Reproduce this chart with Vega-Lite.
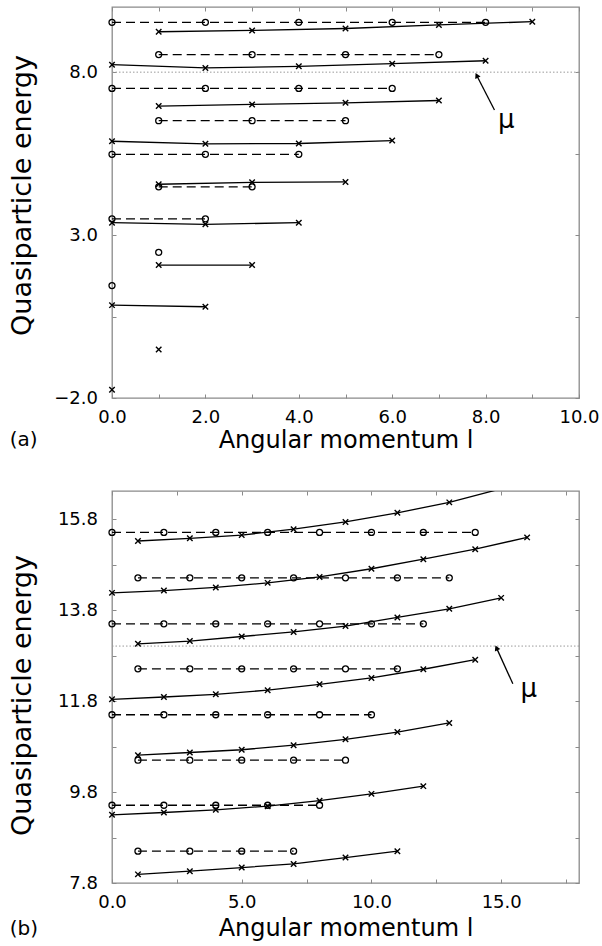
{
  "$schema": "https://vega.github.io/schema/vega-lite/v6.json",
  "padding": {"left": 7, "top": 5, "right": 0, "bottom": 0},
  "bounds": "flush",
  "spacing": 93,
  "config": {
    "font": "DejaVu Sans",
    "view": {"stroke": "#8a8a8a", "strokeWidth": 1.3},
    "axis": {"domain": false, "grid": false, "tickColor": "#8a8a8a", "tickSize": -4, "tickWidth": 1, "labelFont": "DejaVu Sans", "labelFontSize": 18, "labelColor": "black", "titleFont": "DejaVu Sans", "titleFontSize": 24, "titleFontWeight": "normal", "titleColor": "black", "labelFlush": false, "labelOverlap": false},
    "axisX": {"labelPadding": 14},
    "axisY": {"labelPadding": 18.5}
  },
  "datasets": {
    "a": [
      {"l":0,"E":9.53,"s":"o9","k":"o"},{"l":2,"E":9.53,"s":"o9","k":"o"},{"l":4,"E":9.53,"s":"o9","k":"o"},{"l":6,"E":9.53,"s":"o9","k":"o"},{"l":8,"E":9.53,"s":"o9","k":"o"},
      {"l":1,"E":8.54,"s":"o8","k":"o"},{"l":3,"E":8.54,"s":"o8","k":"o"},{"l":5,"E":8.54,"s":"o8","k":"o"},{"l":7,"E":8.54,"s":"o8","k":"o"},
      {"l":0,"E":7.5,"s":"o7","k":"o"},{"l":2,"E":7.5,"s":"o7","k":"o"},{"l":4,"E":7.5,"s":"o7","k":"o"},{"l":6,"E":7.5,"s":"o7","k":"o"},
      {"l":1,"E":6.51,"s":"o6","k":"o"},{"l":3,"E":6.51,"s":"o6","k":"o"},{"l":5,"E":6.51,"s":"o6","k":"o"},
      {"l":0,"E":5.48,"s":"o5","k":"o"},{"l":2,"E":5.48,"s":"o5","k":"o"},{"l":4,"E":5.48,"s":"o5","k":"o"},
      {"l":1,"E":4.48,"s":"o4","k":"o"},{"l":3,"E":4.48,"s":"o4","k":"o"},
      {"l":0,"E":3.5,"s":"o3","k":"o"},{"l":2,"E":3.5,"s":"o3","k":"o"},
      {"l":1,"E":2.47,"s":"o2","k":"o"},
      {"l":0,"E":1.45,"s":"o1","k":"o"},
      {"l":0,"E":-1.75,"s":"x1","k":"x"},
      {"l":1,"E":-0.51,"s":"x2","k":"x"},
      {"l":0,"E":0.85,"s":"x3","k":"x"},{"l":2,"E":0.8,"s":"x3","k":"x"},
      {"l":1,"E":2.08,"s":"x4","k":"x"},{"l":3,"E":2.08,"s":"x4","k":"x"},
      {"l":0,"E":3.38,"s":"x5","k":"x"},{"l":2,"E":3.33,"s":"x5","k":"x"},{"l":4,"E":3.38,"s":"x5","k":"x"},
      {"l":1,"E":4.56,"s":"x6","k":"x"},{"l":3,"E":4.62,"s":"x6","k":"x"},{"l":5,"E":4.63,"s":"x6","k":"x"},
      {"l":0,"E":5.88,"s":"x7","k":"x"},{"l":2,"E":5.8,"s":"x7","k":"x"},{"l":4,"E":5.81,"s":"x7","k":"x"},{"l":6,"E":5.9,"s":"x7","k":"x"},
      {"l":1,"E":6.96,"s":"x8","k":"x"},{"l":3,"E":7.01,"s":"x8","k":"x"},{"l":5,"E":7.06,"s":"x8","k":"x"},{"l":7,"E":7.13,"s":"x8","k":"x"},
      {"l":0,"E":8.23,"s":"x9","k":"x"},{"l":2,"E":8.13,"s":"x9","k":"x"},{"l":4,"E":8.18,"s":"x9","k":"x"},{"l":6,"E":8.26,"s":"x9","k":"x"},{"l":8,"E":8.35,"s":"x9","k":"x"},
      {"l":1,"E":9.24,"s":"x10","k":"x"},{"l":3,"E":9.28,"s":"x10","k":"x"},{"l":5,"E":9.34,"s":"x10","k":"x"},{"l":7,"E":9.45,"s":"x10","k":"x"},{"l":9,"E":9.55,"s":"x10","k":"x"}
    ],
    "b": [
      {"l":1,"E":8.5,"s":"o1","k":"o"},{"l":3,"E":8.5,"s":"o1","k":"o"},{"l":5,"E":8.5,"s":"o1","k":"o"},{"l":7,"E":8.5,"s":"o1","k":"o"},
      {"l":0,"E":9.51,"s":"o2","k":"o"},{"l":2,"E":9.51,"s":"o2","k":"o"},{"l":4,"E":9.51,"s":"o2","k":"o"},{"l":6,"E":9.51,"s":"o2","k":"o"},{"l":8,"E":9.51,"s":"o2","k":"o"},
      {"l":1,"E":10.5,"s":"o3","k":"o"},{"l":3,"E":10.5,"s":"o3","k":"o"},{"l":5,"E":10.5,"s":"o3","k":"o"},{"l":7,"E":10.5,"s":"o3","k":"o"},{"l":9,"E":10.5,"s":"o3","k":"o"},
      {"l":0,"E":11.5,"s":"o4","k":"o"},{"l":2,"E":11.5,"s":"o4","k":"o"},{"l":4,"E":11.5,"s":"o4","k":"o"},{"l":6,"E":11.5,"s":"o4","k":"o"},{"l":8,"E":11.5,"s":"o4","k":"o"},{"l":10,"E":11.5,"s":"o4","k":"o"},
      {"l":1,"E":12.51,"s":"o5","k":"o"},{"l":3,"E":12.51,"s":"o5","k":"o"},{"l":5,"E":12.51,"s":"o5","k":"o"},{"l":7,"E":12.51,"s":"o5","k":"o"},{"l":9,"E":12.51,"s":"o5","k":"o"},{"l":11,"E":12.51,"s":"o5","k":"o"},
      {"l":0,"E":13.5,"s":"o6","k":"o"},{"l":2,"E":13.5,"s":"o6","k":"o"},{"l":4,"E":13.5,"s":"o6","k":"o"},{"l":6,"E":13.5,"s":"o6","k":"o"},{"l":8,"E":13.5,"s":"o6","k":"o"},{"l":10,"E":13.5,"s":"o6","k":"o"},{"l":12,"E":13.5,"s":"o6","k":"o"},
      {"l":1,"E":14.51,"s":"o7","k":"o"},{"l":3,"E":14.51,"s":"o7","k":"o"},{"l":5,"E":14.51,"s":"o7","k":"o"},{"l":7,"E":14.51,"s":"o7","k":"o"},{"l":9,"E":14.51,"s":"o7","k":"o"},{"l":11,"E":14.51,"s":"o7","k":"o"},{"l":13,"E":14.51,"s":"o7","k":"o"},
      {"l":0,"E":15.51,"s":"o8","k":"o"},{"l":2,"E":15.51,"s":"o8","k":"o"},{"l":4,"E":15.51,"s":"o8","k":"o"},{"l":6,"E":15.51,"s":"o8","k":"o"},{"l":8,"E":15.51,"s":"o8","k":"o"},{"l":10,"E":15.51,"s":"o8","k":"o"},{"l":12,"E":15.51,"s":"o8","k":"o"},{"l":14,"E":15.51,"s":"o8","k":"o"},
      {"l":1,"E":7.99,"s":"x1","k":"x"},{"l":3,"E":8.06,"s":"x1","k":"x"},{"l":5,"E":8.14,"s":"x1","k":"x"},{"l":7,"E":8.22,"s":"x1","k":"x"},{"l":9,"E":8.36,"s":"x1","k":"x"},{"l":11,"E":8.5,"s":"x1","k":"x"},
      {"l":0,"E":9.3,"s":"x2","k":"x"},{"l":2,"E":9.35,"s":"x2","k":"x"},{"l":4,"E":9.41,"s":"x2","k":"x"},{"l":6,"E":9.49,"s":"x2","k":"x"},{"l":8,"E":9.61,"s":"x2","k":"x"},{"l":10,"E":9.76,"s":"x2","k":"x"},{"l":12,"E":9.93,"s":"x2","k":"x"},
      {"l":1,"E":10.61,"s":"x3","k":"x"},{"l":3,"E":10.67,"s":"x3","k":"x"},{"l":5,"E":10.73,"s":"x3","k":"x"},{"l":7,"E":10.83,"s":"x3","k":"x"},{"l":9,"E":10.96,"s":"x3","k":"x"},{"l":11,"E":11.12,"s":"x3","k":"x"},{"l":13,"E":11.32,"s":"x3","k":"x"},
      {"l":0,"E":11.84,"s":"x4","k":"x"},{"l":2,"E":11.89,"s":"x4","k":"x"},{"l":4,"E":11.95,"s":"x4","k":"x"},{"l":6,"E":12.04,"s":"x4","k":"x"},{"l":8,"E":12.17,"s":"x4","k":"x"},{"l":10,"E":12.31,"s":"x4","k":"x"},{"l":12,"E":12.5,"s":"x4","k":"x"},{"l":14,"E":12.71,"s":"x4","k":"x"},
      {"l":1,"E":13.06,"s":"x5","k":"x"},{"l":3,"E":13.12,"s":"x5","k":"x"},{"l":5,"E":13.22,"s":"x5","k":"x"},{"l":7,"E":13.32,"s":"x5","k":"x"},{"l":9,"E":13.45,"s":"x5","k":"x"},{"l":11,"E":13.64,"s":"x5","k":"x"},{"l":13,"E":13.83,"s":"x5","k":"x"},{"l":15,"E":14.07,"s":"x5","k":"x"},
      {"l":0,"E":14.18,"s":"x6","k":"x"},{"l":2,"E":14.23,"s":"x6","k":"x"},{"l":4,"E":14.3,"s":"x6","k":"x"},{"l":6,"E":14.4,"s":"x6","k":"x"},{"l":8,"E":14.53,"s":"x6","k":"x"},{"l":10,"E":14.71,"s":"x6","k":"x"},{"l":12,"E":14.92,"s":"x6","k":"x"},{"l":14,"E":15.14,"s":"x6","k":"x"},{"l":16,"E":15.4,"s":"x6","k":"x"},
      {"l":1,"E":15.32,"s":"x7","k":"x"},{"l":3,"E":15.38,"s":"x7","k":"x"},{"l":5,"E":15.45,"s":"x7","k":"x"},{"l":7,"E":15.58,"s":"x7","k":"x"},{"l":9,"E":15.74,"s":"x7","k":"x"},{"l":11,"E":15.94,"s":"x7","k":"x"},{"l":13,"E":16.17,"s":"x7","k":"x"},{"l":15,"E":16.47,"s":"x7","k":"x"}
    ],
    "amu": [{"x1": 0, "x2": 10, "E": 8.0}],
    "bmu": [{"x1": 0, "x2": 18, "E": 13.01}],
    "aarr": [{"l": 8.19, "E": 6.84, "l2": 7.81, "E2": 7.9}],
    "barr": [{"l": 15.45, "E": 12.18, "l2": 14.82, "E2": 12.97}],
    "atxt": [{"l": 8.44, "E": 6.3, "t": "μ"}],
    "btxt": [{"l": 16.06, "E": 11.89, "t": "μ"}],
    "alab": [{"l": -2.19, "E": -3.3, "t": "(a)"}],
    "blab": [{"l": -3.94, "E": 6.79, "t": "(b)"}]
  },
  "vconcat": [
    {
      "width": 467,
      "height": 391,
      "resolve": {"axis": {"x": "independent", "y": "independent"}},
      "layer": [
        {
          "data": {"name": "amu"},
          "mark": {"type": "rule", "color": "#9a9a9a", "strokeDash": [1.5, 2], "strokeWidth": 1},
          "encoding": {
            "x": {"field": "x1", "type": "quantitative", "scale": {"domain": [0, 10], "nice": false, "zero": false},
                  "axis": {"orient": "bottom", "values": [0,1,2,3,4,5,6,7,8,9,10], "labelExpr": "datum.value % 2 == 0 ? format(datum.value, '.1f') : ''", "title": "Angular momentum l", "titleY": 49, "titleBaseline": "alphabetic"}},
            "x2": {"field": "x2"},
            "y": {"field": "E", "type": "quantitative", "scale": {"domain": [-2, 10], "nice": false, "zero": false},
                  "axis": {"orient": "left", "values": [-2, 0.5, 3, 5.5, 8], "labelExpr": "datum.value % 1 == 0 ? format(datum.value, '.1f') : ''", "title": "Quasiparticle energy", "titleX": -90, "titleY": 188, "titleBaseline": "middle", "titleFontSize": 27}}
          }
        },
        {
          "data": {"name": "a"},
          "transform": [{"filter": "datum.k == 'o'"}],
          "mark": {"type": "line", "color": "black", "strokeWidth": 1.3, "strokeDash": [9, 5]},
          "encoding": {
            "x": {"field": "l", "type": "quantitative", "axis": {"orient": "top", "values": [0,1,2,3,4,5,6,7,8,9,10], "labels": false, "title": null}},
            "y": {"field": "E", "type": "quantitative", "axis": {"orient": "right", "values": [-2, 0.5, 3, 5.5, 8], "labels": false, "title": null}},
            "detail": {"field": "s"}
          }
        },
        {
          "data": {"name": "a"},
          "transform": [{"filter": "datum.k == 'x'"}],
          "mark": {"type": "line", "color": "black", "strokeWidth": 1.3},
          "encoding": {
            "x": {"field": "l", "type": "quantitative", "axis": null},
            "y": {"field": "E", "type": "quantitative", "axis": null},
            "detail": {"field": "s"}
          }
        },
        {
          "data": {"name": "a"},
          "transform": [{"filter": "datum.k == 'o'"}],
          "mark": {"type": "point", "shape": "circle", "filled": false, "color": "black", "strokeWidth": 1.3, "size": 36, "opacity": 1},
          "encoding": {
            "x": {"field": "l", "type": "quantitative", "axis": null},
            "y": {"field": "E", "type": "quantitative", "axis": null}
          }
        },
        {
          "data": {"name": "a"},
          "transform": [{"filter": "datum.k == 'x'"}],
          "mark": {"type": "point", "shape": "M-1,-1L1,1M-1,1L1,-1", "filled": false, "color": "black", "strokeWidth": 1.4, "size": 30, "opacity": 1},
          "encoding": {
            "x": {"field": "l", "type": "quantitative", "axis": null},
            "y": {"field": "E", "type": "quantitative", "axis": null}
          }
        },
        {
          "data": {"name": "aarr"},
          "mark": {"type": "rule", "color": "black", "strokeWidth": 1.3},
          "encoding": {
            "x": {"field": "l", "type": "quantitative", "axis": null},
            "y": {"field": "E", "type": "quantitative", "axis": null},
            "x2": {"field": "l2"},
            "y2": {"field": "E2"}
          }
        },
        {
          "data": {"name": "aarr"},
          "mark": {"type": "point", "shape": "triangle-up", "filled": true, "color": "black", "size": 36, "angle": 333, "opacity": 1},
          "encoding": {
            "x": {"field": "l2", "type": "quantitative", "axis": null},
            "y": {"field": "E2", "type": "quantitative", "axis": null}
          }
        },
        {
          "data": {"name": "atxt"},
          "mark": {"type": "text", "font": "DejaVu Sans", "fontSize": 26, "align": "center", "baseline": "alphabetic", "color": "black"},
          "encoding": {
            "x": {"field": "l", "type": "quantitative", "axis": null},
            "y": {"field": "E", "type": "quantitative", "axis": null},
            "text": {"field": "t"}
          }
        },
        {
          "data": {"name": "alab"},
          "mark": {"type": "text", "font": "DejaVu Sans", "fontSize": 20, "align": "left", "baseline": "middle", "color": "black"},
          "encoding": {
            "x": {"field": "l", "type": "quantitative", "axis": null},
            "y": {"field": "E", "type": "quantitative", "axis": null},
            "text": {"field": "t"}
          }
        }
      ]
    },
    {
      "width": 467,
      "height": 392,
      "resolve": {"axis": {"x": "independent", "y": "independent"}},
      "layer": [
        {
          "data": {"name": "bmu"},
          "mark": {"type": "rule", "color": "#9a9a9a", "strokeDash": [1.5, 2], "strokeWidth": 1},
          "encoding": {
            "x": {"field": "x1", "type": "quantitative", "scale": {"domain": [0, 18], "nice": false, "zero": false},
                  "axis": {"orient": "bottom", "values": [0, 2.5, 5, 7.5, 10, 12.5, 15, 17.5], "labelExpr": "datum.value % 5 == 0 ? format(datum.value, '.1f') : ''", "title": "Angular momentum l", "titleY": 52, "titleBaseline": "alphabetic"}},
            "x2": {"field": "x2"},
            "y": {"field": "E", "type": "quantitative", "scale": {"domain": [7.8, 16.42], "nice": false, "zero": false},
                  "axis": {"orient": "left", "values": [7.8, 8.8, 9.8, 10.8, 11.8, 12.8, 13.8, 14.8, 15.8], "labelExpr": "round(datum.value * 10) % 20 == 18 ? format(datum.value, '.1f') : ''", "title": "Quasiparticle energy", "titleX": -90, "titleY": 204, "titleBaseline": "middle", "titleFontSize": 27}}
          }
        },
        {
          "data": {"name": "b"},
          "transform": [{"filter": "datum.k == 'o'"}],
          "mark": {"type": "line", "color": "black", "strokeWidth": 1.3, "strokeDash": [9, 5], "clip": true},
          "encoding": {
            "x": {"field": "l", "type": "quantitative", "axis": {"orient": "top", "values": [0, 2.5, 5, 7.5, 10, 12.5, 15, 17.5], "labels": false, "title": null}},
            "y": {"field": "E", "type": "quantitative", "axis": {"orient": "right", "values": [7.8, 8.8, 9.8, 10.8, 11.8, 12.8, 13.8, 14.8, 15.8], "labels": false, "title": null}},
            "detail": {"field": "s"}
          }
        },
        {
          "data": {"name": "b"},
          "transform": [{"filter": "datum.k == 'x'"}],
          "mark": {"type": "line", "color": "black", "strokeWidth": 1.3, "clip": true},
          "encoding": {
            "x": {"field": "l", "type": "quantitative", "axis": null},
            "y": {"field": "E", "type": "quantitative", "axis": null},
            "detail": {"field": "s"}
          }
        },
        {
          "data": {"name": "b"},
          "transform": [{"filter": "datum.k == 'o'"}],
          "mark": {"type": "point", "shape": "circle", "filled": false, "color": "black", "strokeWidth": 1.3, "size": 36, "opacity": 1},
          "encoding": {
            "x": {"field": "l", "type": "quantitative", "axis": null},
            "y": {"field": "E", "type": "quantitative", "axis": null}
          }
        },
        {
          "data": {"name": "b"},
          "transform": [{"filter": "datum.k == 'x' && datum.E <= 16.42"}],
          "mark": {"type": "point", "shape": "M-1,-1L1,1M-1,1L1,-1", "filled": false, "color": "black", "strokeWidth": 1.4, "size": 30, "opacity": 1},
          "encoding": {
            "x": {"field": "l", "type": "quantitative", "axis": null},
            "y": {"field": "E", "type": "quantitative", "axis": null}
          }
        },
        {
          "data": {"name": "barr"},
          "mark": {"type": "rule", "color": "black", "strokeWidth": 1.3},
          "encoding": {
            "x": {"field": "l", "type": "quantitative", "axis": null},
            "y": {"field": "E", "type": "quantitative", "axis": null},
            "x2": {"field": "l2"},
            "y2": {"field": "E2"}
          }
        },
        {
          "data": {"name": "barr"},
          "mark": {"type": "point", "shape": "triangle-up", "filled": true, "color": "black", "size": 36, "angle": 335, "opacity": 1},
          "encoding": {
            "x": {"field": "l2", "type": "quantitative", "axis": null},
            "y": {"field": "E2", "type": "quantitative", "axis": null}
          }
        },
        {
          "data": {"name": "btxt"},
          "mark": {"type": "text", "font": "DejaVu Sans", "fontSize": 26, "align": "center", "baseline": "alphabetic", "color": "black"},
          "encoding": {
            "x": {"field": "l", "type": "quantitative", "axis": null},
            "y": {"field": "E", "type": "quantitative", "axis": null},
            "text": {"field": "t"}
          }
        },
        {
          "data": {"name": "blab"},
          "mark": {"type": "text", "font": "DejaVu Sans", "fontSize": 20, "align": "left", "baseline": "middle", "color": "black"},
          "encoding": {
            "x": {"field": "l", "type": "quantitative", "axis": null},
            "y": {"field": "E", "type": "quantitative", "axis": null},
            "text": {"field": "t"}
          }
        }
      ]
    }
  ]
}
